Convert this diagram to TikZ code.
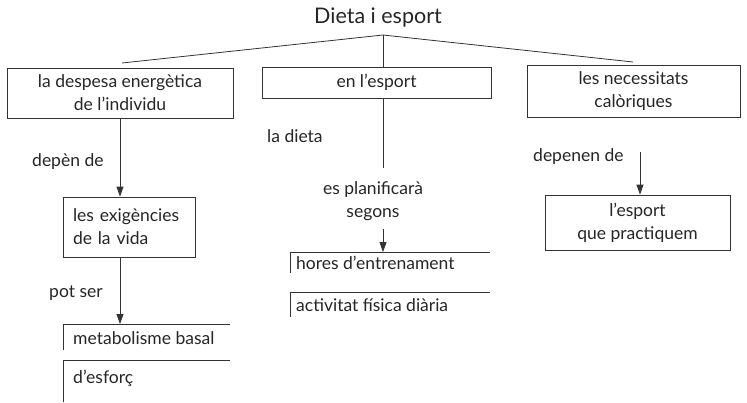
\documentclass[tikz,border=0pt]{standalone}
\usepackage{fontspec}
\setmainfont{Lato}
\usetikzlibrary{arrows.meta}
\begin{document}
\begin{tikzpicture}[x=1pt,y=-1pt,
  txt/.style={font=\fontsize{17.5}{23}\selectfont, inner sep=0pt, text=black!85},
  ttl/.style={font=\fontsize{21.5}{24}\selectfont, inner sep=0pt, text=black!85},
  box/.style={txt, draw=black!80, line width=0.8pt, align=center},
  open/.style={txt, anchor=north west, inner sep=0pt},
  ln/.style={draw=black!80, line width=0.8pt},
  arr/.style={ln, -{Triangle[length=10pt,width=7pt]}}]
\useasboundingbox (0,0) rectangle (747,402);
\fill[white] (0,0) rectangle (747,402);

% title
\node[ttl] (t) at (378,17) {Dieta i esport};
\coordinate (j) at (383,35);

% first level
\node[box, minimum width=226pt, minimum height=50pt] (b1) at (120,93) {la despesa energètica\\de l'individu};
\node[box, minimum width=229pt, minimum height=31pt] (b2) at (376.5,82.5) {en l'esport};
\node[box, minimum width=213pt, minimum height=52pt] (b3) at (633.5,91) {les necessitats\\calòriques};

\coordinate (l1) at (122,63);
\coordinate (r1) at (633,62);
\draw[ln] (l1) -- (j) -- (r1);
\draw[ln] (j) -- (j |- b2.north);

% left column
\node[txt, anchor=west] (dep) at (32,162) {depèn de};
\node[box, align=left, minimum width=132pt, minimum height=60pt, text width=112pt] (ex) at (129,227) {les exigències\\de la vida};
\coordinate (a1) at (120,118);
\draw[arr] (a1) -- (a1 |- ex.north);
\node[txt, anchor=west] (pot) at (49,293) {pot ser};
\coordinate (mbc) at (63,324);
\coordinate (efc) at (63,360);
\node[open] (mb) at (73,331) {metabolisme basal};
\node[open] (ef) at (73,370) {d'esforç};
\coordinate (a2) at (120,324);
\draw[arr] (a2 |- ex.south) -- (a2);
\draw[ln] (63,350) -- (mbc) -- (230,324);
\draw[ln] (63,402) -- (efc) -- (230,360);

% middle column
\node[txt, anchor=west] (ld) at (267,136) {la dieta};
\coordinate (m1) at (383,168);
\draw[ln] (m1 |- b2.south) -- (m1);
\node[txt, align=center] (pl) at (373,201) {es planificarà\\segons};
\coordinate (m2) at (383,229);
\coordinate (hoc) at (290,252);
\coordinate (acc) at (290,292);
\node[open] (ho) at (296,256) {hores d'entrenament};
\node[open] (ac) at (296,298) {activitat física diària};
\draw[arr] (m2) -- (m2 |- hoc);
\draw[ln] (290,273) -- (hoc) -- (490,252);
\draw[ln] (290,317) -- (acc) -- (490,292);

% right column
\node[txt, anchor=west] (dp) at (533,157) {depenen de};
\node[box, minimum width=185pt, minimum height=55pt] (pr) at (637.5,222.5) {l'esport\\que practiquem};
\coordinate (dc) at (640,152);
\draw[arr] (dc) -- (dc |- pr.north);
\end{tikzpicture}
\end{document}
